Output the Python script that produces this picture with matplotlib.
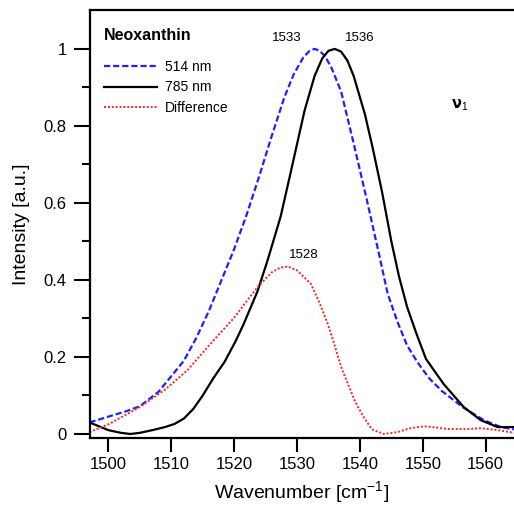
import numpy as np
import matplotlib as mpl
mpl.use('Agg')
import matplotlib.pyplot as plt

# 514 nm excitation (blue dashed)
wn514 = [1497, 1500, 1503, 1505, 1508, 1510, 1512, 1514, 1516, 1518, 1520, 1522,
         1524, 1526, 1528, 1529.5, 1531, 1532, 1532.8, 1533.6, 1534.5, 1535.5, 1537, 1539, 1541,
         1543, 1544.4, 1546, 1547.5, 1549.2, 1551, 1553, 1556.5, 1559.7, 1562.4, 1564.5]
int514 = [0.030, 0.045, 0.060, 0.072, 0.110, 0.150, 0.190, 0.250, 0.320, 0.400, 0.480, 0.570,
          0.670, 0.775, 0.875, 0.935, 0.978, 0.995, 1.000, 0.995, 0.980, 0.950, 0.890, 0.755, 0.615,
          0.470, 0.365, 0.290, 0.230, 0.185, 0.145, 0.112, 0.068, 0.036, 0.018, 0.012]

# 785 nm excitation (black solid)
wn785 = [1497, 1498.5, 1500, 1502, 1503.5, 1505, 1507, 1509, 1510.5, 1512, 1513.5, 1515,
         1516.7, 1518.5, 1520.2, 1521.5, 1523.7, 1525.3, 1527.4, 1529, 1531.2, 1532.8, 1534,
         1535, 1536, 1537, 1538, 1539, 1540.8, 1542, 1543.5, 1545, 1546.2, 1547.5, 1549, 1550.5,
         1553.3, 1556.5, 1559.2, 1561.9, 1564.5]
int785 = [0.030, 0.020, 0.010, 0.003, 0.000, 0.003, 0.010, 0.018, 0.026, 0.040, 0.065, 0.100,
          0.145, 0.188, 0.240, 0.285, 0.370, 0.450, 0.565, 0.680, 0.840, 0.930, 0.975,
          0.995, 1.000, 0.993, 0.970, 0.930, 0.830, 0.745, 0.630, 0.500, 0.410, 0.330, 0.260, 0.195,
          0.130, 0.070, 0.036, 0.018, 0.018]

# difference spectrum (red dotted)
wnDiff = [1497, 1500, 1505, 1509, 1512.6, 1516, 1519.9, 1522, 1523.9, 1526, 1527.3, 1528.5,
          1530, 1532.2, 1533.6, 1534.9, 1535.8, 1537.1, 1538.1, 1539.2, 1540.6, 1541.9,
          1543.8, 1546, 1548, 1550.2, 1552, 1554, 1557, 1559.2, 1562, 1564.5]
intDiff = [0.005, 0.025, 0.070, 0.115, 0.166, 0.230, 0.300, 0.345, 0.385, 0.420, 0.432, 0.435,
           0.425, 0.390, 0.340, 0.285, 0.240, 0.170, 0.130, 0.085, 0.044, 0.012,
           0.000, 0.005, 0.015, 0.020, 0.017, 0.013, 0.013, 0.015, 0.010, 0.003]

mpl.rcParams['font.family'] = ['Liberation Sans', 'DejaVu Sans']
mpl.rcParams['font.size'] = 12

fig = plt.figure(figsize=(5.14, 5.11), dpi=100)
ax = fig.add_axes([89.5 / 514, 1 - 438 / 511, 1 - 89.5 / 514, 428 / 511])

ax.plot(wn514, int514, color='#1f1fff', lw=1.6, dashes=(2.8, 1.3), label='514 nm')
ax.plot(wn785, int785, color='black', lw=1.6, label='785 nm')
ax.plot(wnDiff, intDiff, color='#ff2020', lw=1.4, dashes=(1, 1), label='Difference')

ax.set_xlim(1497, 1564.5)
ax.set_ylim(-0.0104, 1.101)
ax.set_xticks([1500, 1510, 1520, 1530, 1540, 1550, 1560])
ax.set_yticks([0, 0.2, 0.4, 0.6, 0.8, 1.0])
ax.set_yticklabels(['0', '0.2', '0.4', '0.6', '0.8', '1'])
ax.set_yticks(np.arange(0.1, 1.0, 0.2), minor=True)
ax.tick_params(axis='y', which='major', direction='out', length=11.5, width=1.5, labelsize=12, pad=5)
ax.tick_params(axis='x', which='major', direction='out', length=10, width=1.5, labelsize=12, pad=4)
ax.tick_params(axis='y', which='minor', direction='out', length=6, width=1.5)
for s in ['left', 'bottom', 'top']:
    ax.spines[s].set_linewidth(1.6)
ax.spines['right'].set_visible(False)

ax.set_xlabel('Wavenumber [cm$^{\\mathregular{-1}}$]', fontsize=14, labelpad=5)
ax.set_ylabel('Intensity [a.u.]', fontsize=14, labelpad=10)

ax.text(1528.3, 1.029, '1533', fontsize=9.5, ha='center', va='center')
ax.text(1539.9, 1.029, '1536', fontsize=9.5, ha='center', va='center')
ax.text(1531.1, 0.465, '1528', fontsize=9.5, ha='center', va='center')
ax.text(1555.8, 0.855, '$\\mathbf{\\nu}_\\mathregular{1}$', fontsize=10.5, ha='center', va='center')

fig.text(103.5 / 514, 1 - 35 / 511, 'Neoxanthin', fontsize=11.5, fontweight='bold',
         ha='left', va='center')
ax.legend(loc='upper left', bbox_to_anchor=(0.005, 0.912), frameon=False, fontsize=10,
          handlelength=3.8, handletextpad=0.6, labelspacing=0.45)

plt.savefig('out.png', dpi=100)
